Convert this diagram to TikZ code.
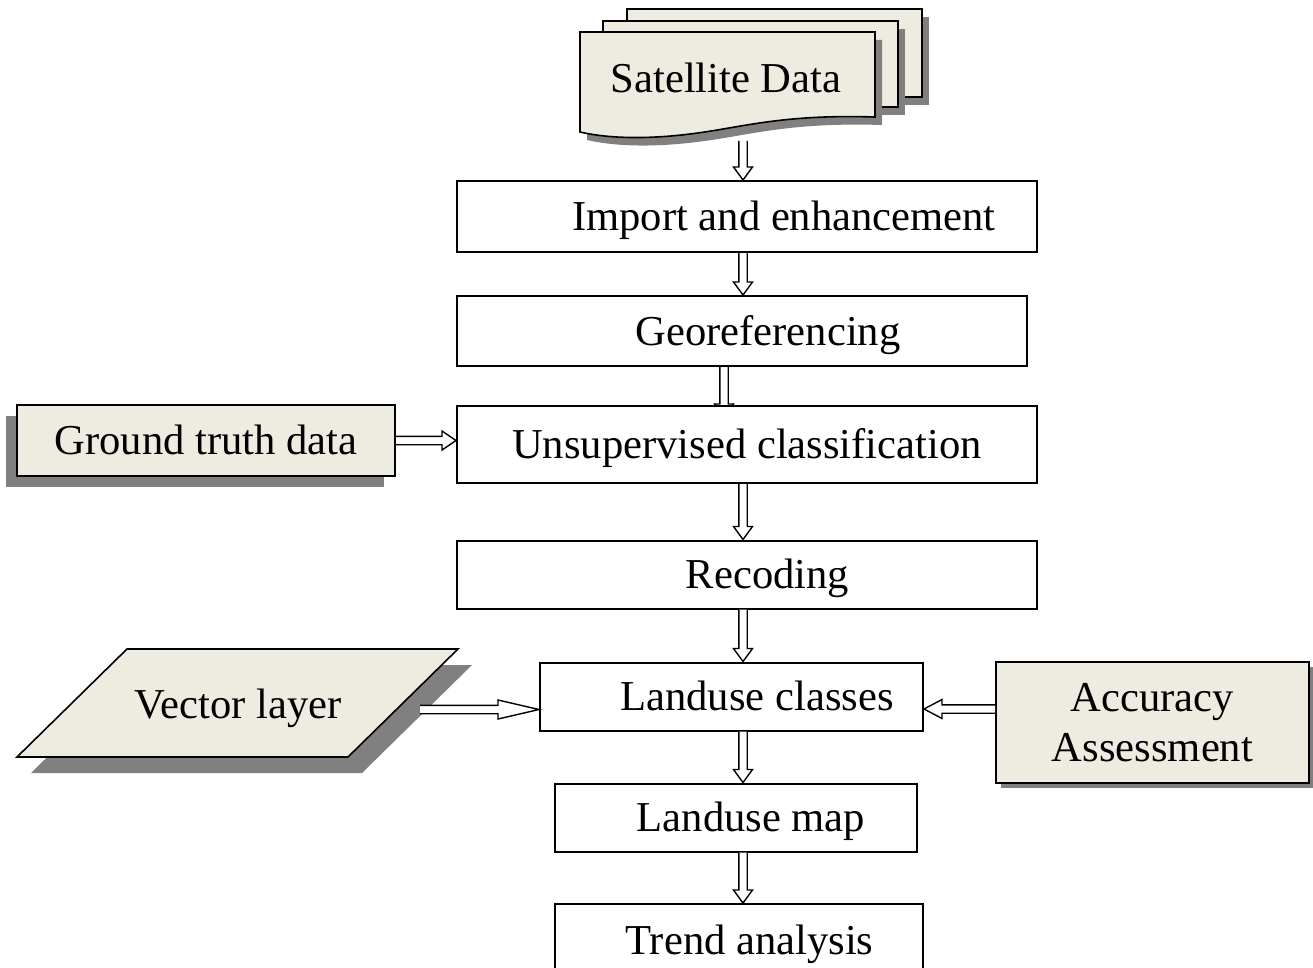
\documentclass[tikz,border=0pt]{standalone}
\usepackage{fontspec}
\setmainfont{Liberation Serif}
\usetikzlibrary{calc,shadows,backgrounds}
\definecolor{beige}{HTML}{EEECE1}
\definecolor{shgray}{HTML}{808080}
\tikzset{
  bigtext/.style={font=\fontsize{42.6}{50}\selectfont},
  box/.style={draw, line width=2pt, fill=white, rectangle, inner sep=0pt, bigtext},
  captext/.style={text height=28pt, text depth=0pt},
  databox/.style={box, fill=beige},
  sheet/.style={draw, line width=1.6pt, fill=beige},
  shadowfill/.style={fill=shgray, draw=none},
  arrowline/.style={draw, line width=1.4pt, fill=white, line join=miter},
}
\newcommand\fatarrow[3][13]{%
  \path ($(#3)!#1pt!(#2)$) coordinate (fab);
  \draw[arrowline] ($(#2)!4.2pt!90:(#3)$) -- ($(fab)!4.2pt!90:(#3)$) -- ($(fab)!9.5pt!90:(#3)$) -- (#3) -- ($(fab)!9.5pt!-90:(#3)$) -- ($(fab)!4.2pt!-90:(#3)$) -- ($(#2)!4.2pt!-90:(#3)$);%
}
\begin{document}
\begin{tikzpicture}[x=1pt, y=-1pt]
\useasboundingbox (0,0) rectangle (1313,968);
\clip (0,0) rectangle (1313,968);

% Satellite data (stacked documents)
\fill[shadowfill] (634,17) rectangle (929,105);
\draw[sheet] (627,9) rectangle (922,97);
\fill[shadowfill] (610,29) rectangle (905,115);
\draw[sheet] (603,21) rectangle (898,107);
\fill[shadowfill, shift={(7,8)}] (580,32) -- (875,32) -- (875,117)
   .. controls (780,114) and (740,128) .. (690,134)
   .. controls (650,139) and (610,139) .. (580,132) -- cycle;
\draw[sheet] (580,32) -- (875,32) -- (875,117)
   .. controls (780,114) and (740,128) .. (690,134)
   .. controls (650,139) and (610,139) .. (580,132) -- cycle;
\node[bigtext, captext, inner sep=0pt] (sat) at (726,79) {Satellite Data};

% Process boxes
\node[box, captext, minimum width=580pt, minimum height=71pt] (imp) at (747,216.5) {\hspace*{74pt}Import and enhancement};
\node[box, captext, minimum width=570pt, minimum height=70pt] (geo) at (742,331) {\hspace*{52pt}Georeferencing};
\node[box, captext, minimum width=580pt, minimum height=77pt] (uns) at (747,444.5) {Unsupervised classification};
\node[box, captext, minimum width=580pt, minimum height=68pt] (rec) at (747,574.5) {\hspace*{41pt}Recoding};
\node[box, captext, minimum width=383pt, minimum height=68pt] (luc) at (731.5,696.5) {\hspace*{51pt}Landuse classes};
\node[box, captext, minimum width=362pt, minimum height=68pt] (lum) at (736,817.5) {\hspace*{30pt}Landuse map};
\node[box, captext, minimum width=368pt, minimum height=72pt] (trd) at (739,940) {\hspace*{21pt}Trend analysis};

% Input boxes
\node[databox, captext, minimum width=378pt, minimum height=71pt,
      general shadow={shadowfill, shadow xshift=-11pt, shadow yshift=-11pt}] (gtd) at (206,440.5) {Ground truth data};
\node[databox, align=center, minimum width=313pt, minimum height=121pt,
      general shadow={shadowfill, shadow xshift=5pt, shadow yshift=-5pt}] (acc) at (1152.5,722.5) {Accuracy\\Assessment};

% Vector layer (parallelogram)
\fill[shadowfill, shift={(14,16)}] (127,649) -- (458,649) -- (348,757) -- (17,757) -- cycle;
\draw[sheet] (127,649) -- (458,649) -- (348,757) -- (17,757) -- cycle;
\node[bigtext, captext, inner sep=0pt] (vec) at (238,704) {Vector layer};

% Arrow anchor coordinates
\coordinate (colx) at (743,0);
\coordinate (colg) at (724,0);
\coordinate (satout) at (743,141);
\coordinate (vecout) at (420,709.5);
\coordinate (accy) at (0,709);
\coordinate (a1) at (imp.north -| colx);
\coordinate (a2s) at (imp.south -| colx);
\coordinate (a2e) at (geo.north -| colx);
\coordinate (a3s) at (geo.south -| colg);
\coordinate (a3n) at (uns.north -| colg);
\coordinate (a3e) at ($(a3n)+(0,12)$);
\coordinate (a4s) at (uns.south -| colx);
\coordinate (a4e) at (rec.north -| colx);
\coordinate (a5s) at (rec.south -| colx);
\coordinate (a5e) at (luc.north -| colx);
\coordinate (a6s) at (luc.south -| colx);
\coordinate (a6e) at (lum.north -| colx);
\coordinate (a7s) at (lum.south -| colx);
\coordinate (a7e) at (trd.north -| colx);
\coordinate (a8e) at (uns.west |- gtd.east);
\coordinate (a9e) at (luc.west |- vecout);
\coordinate (a10s) at (acc.west |- accy);
\coordinate (a10e) at (luc.east |- accy);

% Arrows
\begin{pgfonlayer}{background}
\fatarrow{a3s}{a3e}
\end{pgfonlayer}
\fatarrow{satout}{a1}
\fatarrow{a2s}{a2e}
\fatarrow{a4s}{a4e}
\fatarrow{a5s}{a5e}
\fatarrow{a6s}{a6e}
\fatarrow{a7s}{a7e}
\fatarrow[14]{gtd.east}{a8e}
\fatarrow[41]{vecout}{a9e}
\fatarrow[18]{a10s}{a10e}
\end{tikzpicture}
\end{document}
